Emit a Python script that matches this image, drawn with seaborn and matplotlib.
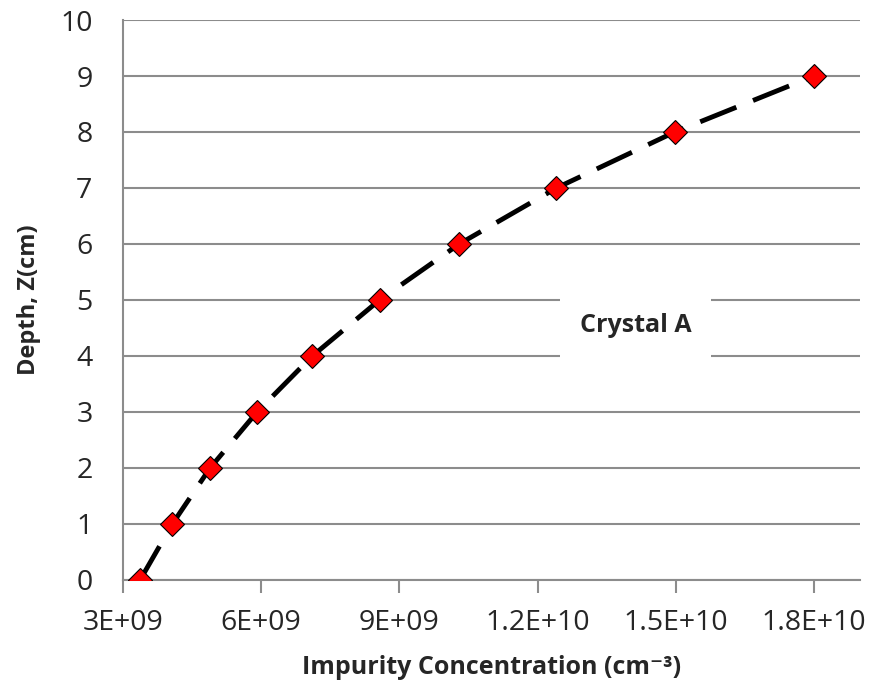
import matplotlib
matplotlib.use("Agg")
import matplotlib.pyplot as plt
import seaborn as sns
import pandas as pd

concentration = [3.37e9, 4.07e9, 4.89e9, 5.91e9, 7.11e9, 8.57e9, 10.30e9, 12.41e9, 14.98e9, 18.0e9]
depth = [0, 1, 2, 3, 4, 5, 6, 7, 8, 9]
x_ticks = [3e9, 6e9, 9e9, 1.2e10, 1.5e10, 1.8e10]
x_tick_labels = ["3E+09", "6E+09", "9E+09", "1.2E+10", "1.5E+10", "1.8E+10"]
y_ticks = list(range(0, 11))

sns.set_style("white")
plt.rcParams['font.family'] = ['Open Sans', 'DejaVu Sans']

df = pd.DataFrame({"conc": concentration, "depth": depth})

fig = plt.figure(figsize=(8.82, 6.85), dpi=100)
ax = fig.add_axes([0.1395, 0.1533, 0.8355, 0.8175])

sns.lineplot(data=df, x="conc", y="depth", sort=False, ax=ax, color="black",
             linewidth=3.5, marker="D", markersize=12, markerfacecolor="#ff0000",
             markeredgecolor="black", markeredgewidth=0.8, zorder=3)
ax.lines[0].set_dashes([8, 3.7])

ax.set_xlim(3e9, 1.9e10)
ax.set_ylim(0, 10)
ax.set_xticks(x_ticks)
ax.set_xticklabels(x_tick_labels)
ax.set_yticks(y_ticks)

ax.yaxis.grid(True, color="#8c8c8c", linewidth=1.5)
ax.xaxis.grid(False)
for s in ["top", "right"]:
    ax.spines[s].set_visible(False)
for s in ["left", "bottom"]:
    ax.spines[s].set_color("#8c8c8c")
    ax.spines[s].set_linewidth(1.5)

ax.tick_params(axis="x", which="major", direction="out", length=9, width=1.5,
               color="#8c8c8c", labelsize=20.5, pad=12, bottom=True)
ax.tick_params(axis="y", which="major", length=0, labelsize=20.5, pad=22)

ax.set_xlabel("Impurity Concentration (cm⁻³)", fontsize=18, fontweight="bold", labelpad=13)
ax.set_ylabel("Depth, Z(cm)", fontsize=17, fontweight="bold", labelpad=14)

ax.text(1.413e10, 4.55, "Crystal A", fontsize=18, fontweight="bold", ha="center", va="center",
        bbox=dict(boxstyle="square,pad=0.8", facecolor="white", edgecolor="none"), zorder=4)

fig.savefig("out.png", dpi=100)
